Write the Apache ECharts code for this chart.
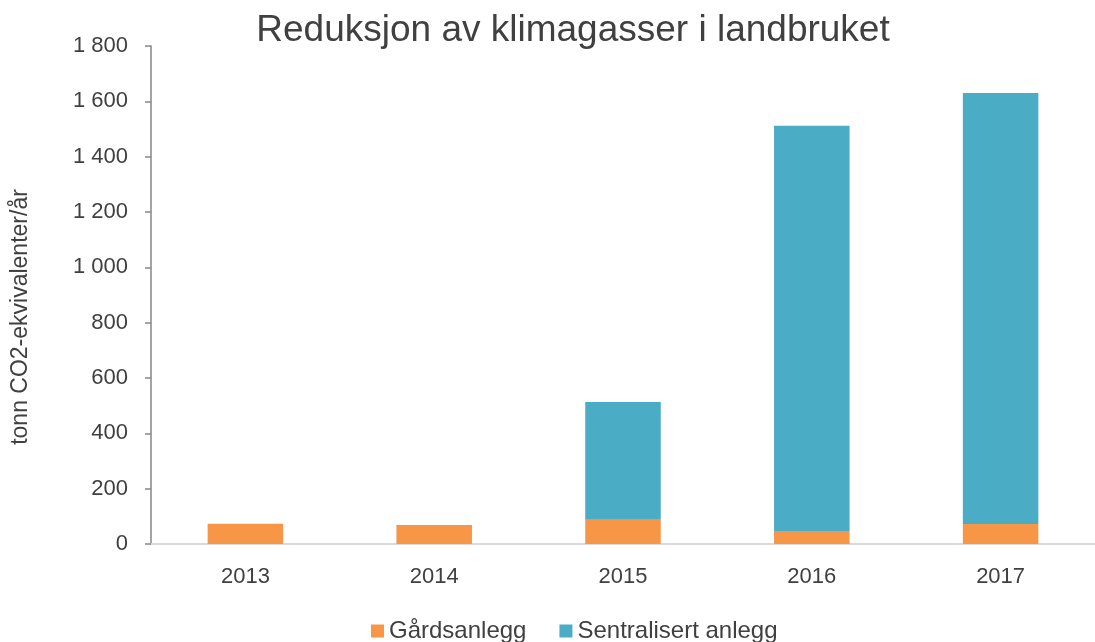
<!DOCTYPE html>
<html>
<head>
<meta charset="utf-8">
<script src="https://cdn.jsdelivr.net/npm/echarts@6/dist/echarts.min.js"></script>
<style>
html, body { margin: 0; padding: 0; background: #fff; }
#container { width: 1095px; height: 642px; }
</style>
</head>
<body>
<div id="container"></div>
<script>
var years = ['2013', '2014', '2015', '2016', '2017'];
var gardsanlegg = [73, 69, 88, 44, 72];
var sentralisert = [0, 0, 425, 1468, 1558];
var seriesNames = ['Gårdsanlegg', 'Sentralisert anlegg'];
var seriesColors = ['#F79646', '#4BACC6'];

var dom = document.getElementById('container');
var myChart = echarts.init(dom);

function fmt(v) {
    return String(v).replace(/\B(?=(\d{3})+(?!\d))/g, ' ');
}

var option = {
    animation: false,
    textStyle: { fontFamily: 'Liberation Sans, Arial, sans-serif' },
    title: {
        text: 'Reduksjon av klimagasser i landbruket',
        left: 568,
        textAlign: 'center',
        top: 7,
        textStyle: { fontSize: 37, fontWeight: 'normal', color: '#404040', fontFamily: 'Liberation Sans, Arial, sans-serif' }
    },
    legend: {
        top: 614,
        left: 366,
        itemWidth: 13,
        itemHeight: 13,
        itemGap: 33,
        icon: 'rect',
        textStyle: { fontSize: 24, color: '#404040', padding: [0, 0, 0, 0] },
        data: seriesNames
    },
    grid: { left: 151, right: -11, top: 46, bottom: 98 },
    xAxis: {
        type: 'category',
        data: years,
        axisLine: { lineStyle: { color: '#d9d9d9', width: 2 } },
        axisTick: { show: false },
        axisLabel: { fontSize: 22, color: '#404040', margin: 22 }
    },
    yAxis: {
        type: 'value',
        min: 0,
        max: 1800,
        interval: 200,
        name: 'tonn CO2-ekvivalenter/år',
        nameLocation: 'middle',
        nameGap: 119,
        nameTextStyle: { fontSize: 23, color: '#404040', padding: [0, 44, 0, 0] },
        axisLine: { show: true, lineStyle: { color: '#868686', width: 1.5 } },
        axisTick: { show: true, length: 6, lineStyle: { color: '#868686', width: 1.5 } },
        splitLine: { show: false },
        axisLabel: { fontSize: 22, color: '#404040', margin: 23, formatter: fmt }
    },
    series: [
        {
            name: seriesNames[0],
            type: 'bar',
            stack: 'total',
            barWidth: '40%',
            data: gardsanlegg,
            itemStyle: { color: seriesColors[0] }
        },
        {
            name: seriesNames[1],
            type: 'bar',
            stack: 'total',
            barWidth: '40%',
            data: sentralisert,
            itemStyle: { color: seriesColors[1] }
        }
    ]
};
myChart.setOption(option);
</script>
</body>
</html>
